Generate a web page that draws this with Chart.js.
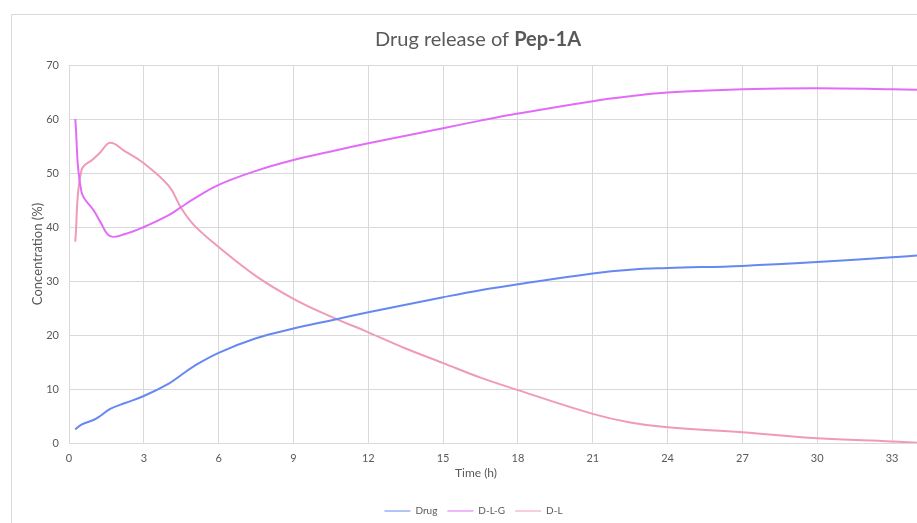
<!DOCTYPE html>
<html>
<head>
<meta charset="utf-8">
<script src="https://cdn.jsdelivr.net/npm/chart.js@4"></script>
<style>
  body { margin: 0; background: #fff; overflow: hidden; }
  #wrap { width: 917px; height: 523px; overflow: hidden; }
</style>
</head>
<body>
<div id="wrap"><canvas id="releaseChart" width="917" height="529"></canvas></div>
<script>
// time points (h)
const times = [0.25, 0.5, 1, 1.25, 1.65, 2.25, 3, 4, 4.5, 5, 6, 7.5, 9, 10.5, 12, 13.5, 15, 16.5, 18, 21, 22.5, 24, 27, 30, 33, 34];
const drug = [2.5, 3.4, 4.3, 5.0, 6.3, 7.4, 8.7, 11.0, 12.6, 14.2, 16.7, 19.4, 21.2, 22.7, 24.2, 25.6, 27.0, 28.3, 29.4, 31.4, 32.1, 32.4, 32.8, 33.5, 34.4, 34.7];
const dlg = [60, 46.5, 43.0, 41.0, 38.3, 38.7, 40.0, 42.2, 43.7, 45.2, 47.8, 50.4, 52.4, 54.0, 55.5, 56.9, 58.3, 59.7, 61.0, 63.3, 64.2, 64.9, 65.5, 65.7, 65.5, 65.4];
const dl = [37.3, 50.5, 52.7, 53.8, 55.6, 54.0, 51.8, 47.6, 43.5, 40.4, 36.3, 30.9, 26.7, 23.4, 20.5, 17.5, 14.8, 12.1, 9.8, 5.4, 3.8, 2.9, 2.0, 0.9, 0.3, 0.05];

const seriesNames = ["Drug", "D-L-G", "D-L"];
const xTicks = [0, 3, 6, 9, 12, 15, 18, 21, 24, 27, 30, 33];
const yTicks = [0, 10, 20, 30, 40, 50, 60, 70];

const textColor = "#595959";
const gridColor = "#d9d9d9";

function toPoints(values) {
  return times.map((t, i) => ({ x: t, y: values[i] }));
}

// outer frame, title with bold part, x axis title
const decorations = {
  id: "decorations",
  beforeDraw(chart) {
    const ctx = chart.ctx;
    ctx.save();
    ctx.strokeStyle = gridColor;
    ctx.lineWidth = 1;
    ctx.beginPath();
    ctx.moveTo(11.5, 529);
    ctx.lineTo(11.5, 14.5);
    ctx.lineTo(917, 14.5);
    ctx.stroke();
    ctx.restore();
  },
  afterDraw(chart) {
    const ctx = chart.ctx;
    ctx.save();
    ctx.fillStyle = textColor;
    ctx.textBaseline = "middle";
    const part1 = "Drug release of ";
    const part2 = "Pep-1A";
    ctx.font = "20px Lato";
    const w1 = ctx.measureText(part1).width;
    ctx.font = "bold 20px Lato";
    const w2 = ctx.measureText(part2).width;
    const x = 478 - (w1 + w2) / 2;
    ctx.textAlign = "left";
    ctx.font = "20px Lato";
    ctx.fillText(part1, x, 40);
    ctx.font = "bold 20px Lato";
    ctx.fillText(part2, x + w1, 40);

    ctx.font = "12px Lato";
    ctx.textAlign = "center";
    ctx.fillText("Time (h)", 476, 473);
    ctx.restore();
  }
};

const ctx = document.getElementById("releaseChart").getContext("2d");

new Chart(ctx, {
  type: "line",
  data: {
    datasets: [
      { label: seriesNames[0], data: toPoints(drug), borderColor: "#6688f2", backgroundColor: "#6688f2" },
      { label: seriesNames[1], data: toPoints(dlg), borderColor: "#e26cf8", backgroundColor: "#e26cf8" },
      { label: seriesNames[2], data: toPoints(dl), borderColor: "#f09ab9", backgroundColor: "#f09ab9" }
    ]
  },
  options: {
    responsive: false,
    animation: false,
    devicePixelRatio: 1,
    elements: {
      line: { borderWidth: 2, tension: 0.4 },
      point: { radius: 0 }
    },
    layout: { padding: { top: 65, left: 30, right: 0, bottom: 3 } },
    scales: {
      x: {
        type: "linear",
        min: 0,
        max: 34,
        afterBuildTicks: scale => { scale.ticks = xTicks.map(v => ({ value: v })); },
        afterFit: scale => { scale.height = 53; },
        grid: { color: gridColor, drawTicks: false },
        border: { color: gridColor },
        ticks: { color: textColor, font: { family: "Lato", size: 11 }, padding: 9, maxRotation: 0 }
      },
      y: {
        min: 0,
        max: 70,
        afterBuildTicks: scale => { scale.ticks = yTicks.map(v => ({ value: v })); },
        afterFit: scale => { scale.width = 39; },
        grid: { color: gridColor, drawTicks: false },
        border: { display: false },
        ticks: { color: textColor, font: { family: "Lato", size: 11 }, padding: 10 },
        title: {
          display: true,
          text: "Concentration (%)",
          color: textColor,
          font: { family: "Lato", size: 13 },
          padding: { top: 0, bottom: 0 }
        }
      }
    },
    plugins: {
      legend: {
        position: "bottom",
        labels: {
          color: textColor,
          font: { family: "Lato", size: 10 },
          usePointStyle: true,
          pointStyle: "line",
          pointStyleWidth: 26,
          boxHeight: 2,
          padding: 10
        }
      },
      tooltip: { enabled: false }
    }
  },
  plugins: [decorations]
});
</script>
</body>
</html>
